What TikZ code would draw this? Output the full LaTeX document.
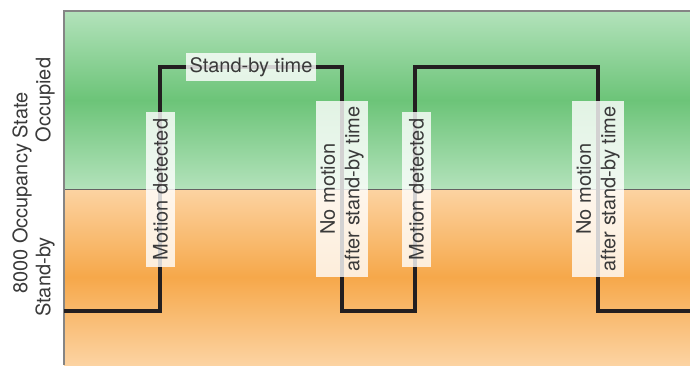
\documentclass[tikz,border=0pt]{standalone}
\usepackage{fontspec}
\setmainfont{TeX Gyre Heros}
\usetikzlibrary{positioning}
\definecolor{leaf}{HTML}{6CC478}
\definecolor{leafbg}{HTML}{B3E2BB}
\definecolor{amber}{HTML}{F6A84A}
\definecolor{amberbg}{HTML}{FCD3A2}
\definecolor{ink}{HTML}{231F20}
\definecolor{txt}{HTML}{3A3A3A}
\definecolor{frame}{HTML}{858585}
\tikzset{
  lbl/.style  ={fill=white, fill opacity=.8, text opacity=1, text=txt, inner sep=0pt, align=center, font=\fontsize{15}{18.5}\selectfont},
  lblv/.style ={lbl, rotate=90},
  axl/.style  ={text=txt, rotate=90, inner sep=0pt, font=\fontsize{15}{18.5}\selectfont},
  sig/.style  ={draw=ink, line width=3.2pt, line join=miter},
  edge/.style ={draw=frame, line width=.8pt},
  split/.style={draw=ink!70, line width=.6pt},
}

\begin{document}
\begin{tikzpicture}[x=0.75pt,y=-0.75pt]
    \useasboundingbox (0,0) rectangle (690,365);
    % state bands
    \fill[top color=leafbg, bottom color=leafbg, middle color=leaf] (64,11) rectangle (690,189);
    \fill[top color=amberbg, bottom color=amberbg, middle color=amber] (64,189) rectangle (690,365);
    \draw[split] (64,189) -- (690,189);
    \draw[edge] (64,365) -- (64,11) -- (690,11);

    % occupancy signal
    \coordinate (s0) at (64,311);
    \coordinate (up1) at (160,311);
    \coordinate (dn1) at (342,67);
    \coordinate (up2) at (415,311);
    \coordinate (dn2) at (598,67);
    \coordinate (s1) at (690,311);
    \draw[sig] (s0) -- (up1) |- (dn1) |- (up2) |- (dn2) |- (s1);

    \node[lbl, minimum width=97.5pt, minimum height=21pt] (sbt) at (251,67) {Stand-by time};
    \node[lblv, minimum width=116pt, minimum height=22pt] (md1) at (160.5,189.5) {Motion detected};
    \node[lblv, minimum width=132pt, minimum height=39pt] (nm1) at (342,189) {No motion\\after stand-by time};
    \node[lblv, minimum width=116pt, minimum height=22pt] (md2) at (416.5,189.5) {Motion detected};
    \node[lblv, minimum width=132pt, minimum height=39pt] (nm2) at (598,189) {No motion\\after stand-by time};

    % axis
    \node[axl] (ax) at (22,193) {8000 Occupancy State};
    \node[axl] (occ) at (45,100) {Occupied};
    \node[axl] (sby) at (45,277) {Stand-by};
  \end{tikzpicture}
\end{document}
